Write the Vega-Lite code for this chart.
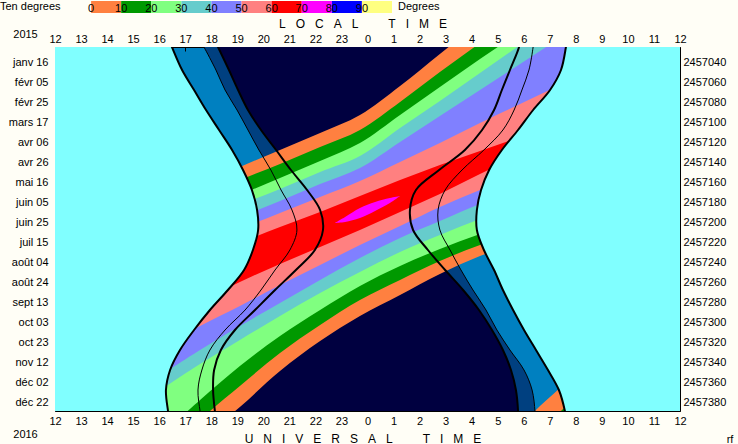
{
 "$schema": "https://vega.github.io/schema/vega-lite/v6.json",
 "width": 625, "height": 364,
 "autosize": {"type": "none"},
 "padding": {"left": 55, "top": 47, "right": 58, "bottom": 33},
 "background": "#FFFEF6",
 "title": {"text": "Degrees", "orient": "top", "anchor": "start", "frame": "group", "dx": 343, "offset": -20, "align": "left", "baseline": "alphabetic", "font": "Liberation Sans", "fontSize": 11, "fontWeight": "normal", "color": "#000"},
 "config": {
  "view": {"fill": "#0080C0", "stroke": null},
  "axis": {"labelFont": "Liberation Sans", "labelFontSize": 11, "labelColor": "#000", "tickColor": "#000", "domainColor": "#000", "titleFont": "Liberation Sans", "titleFontSize": 12, "titleFontWeight": "normal", "titleColor": "#000", "grid": false, "tickSize": -4, "zindex": 1, "labelFlush": false, "labelOverlap": false, "labelBound": false}
 },
 "datasets": {
  "sun": [
   {"jd": 2457018, "L1": 16.38, "L2": 17.57, "L3": 18.14, "R1": 31.66, "R2": 30.39, "R3": 29.86},
   {"jd": 2457025, "L1": 16.49, "L2": 17.72, "L3": 18.26, "R1": 31.62, "R2": 30.36, "R3": 29.82},
   {"jd": 2457048, "L1": 16.88, "L2": 18.18, "L3": 18.68, "R1": 31.43, "R2": 30.20, "R3": 29.47},
   {"jd": 2457068, "L1": 17.34, "L2": 18.53, "L3": 19.03, "R1": 31.01, "R2": 29.93, "R3": 29.16},
   {"jd": 2457088, "L1": 17.80, "L2": 18.99, "L3": 19.41, "R1": 30.36, "R2": 29.63, "R3": 28.86},
   {"jd": 2457108, "L1": 18.30, "L2": 19.41, "L3": 19.91, "R1": 29.78, "R2": 29.20, "R3": 28.40},
   {"jd": 2457128, "L1": 18.80, "L2": 19.83, "L3": 20.49, "R1": 29.16, "R2": 28.47, "R3": 27.74},
   {"jd": 2457148, "L1": 19.22, "L2": 20.29, "L3": 21.06, "R1": 28.67, "R2": 27.63, "R3": 26.75},
   {"jd": 2457168, "L1": 19.56, "L2": 20.68, "L3": 21.68, "R1": 28.36, "R2": 26.98, "R3": 25.86},
   {"jd": 2457188, "L1": 19.76, "L2": 21.10, "L3": 22.18, "R1": 28.20, "R2": 26.71, "R3": 25.63},
   {"jd": 2457208, "L1": 19.80, "L2": 21.29, "L3": 22.29, "R1": 28.20, "R2": 26.78, "R3": 25.75},
   {"jd": 2457228, "L1": 19.60, "L2": 21.02, "L3": 21.98, "R1": 28.47, "R2": 27.17, "R3": 26.32},
   {"jd": 2457248, "L1": 19.26, "L2": 20.45, "L3": 21.25, "R1": 28.86, "R2": 27.59, "R3": 26.98},
   {"jd": 2457268, "L1": 18.64, "L2": 19.91, "L3": 20.45, "R1": 29.20, "R2": 28.05, "R3": 27.67},
   {"jd": 2457288, "L1": 17.95, "L2": 19.30, "L3": 19.68, "R1": 29.59, "R2": 28.55, "R3": 28.28},
   {"jd": 2457308, "L1": 17.34, "L2": 18.53, "L3": 18.91, "R1": 30.01, "R2": 28.97, "R3": 28.78},
   {"jd": 2457328, "L1": 16.80, "L2": 17.95, "L3": 18.37, "R1": 30.47, "R2": 29.47, "R3": 29.20},
   {"jd": 2457348, "L1": 16.42, "L2": 17.64, "L3": 18.11, "R1": 30.93, "R2": 30.01, "R3": 29.51},
   {"jd": 2457368, "L1": 16.26, "L2": 17.49, "L3": 18.07, "R1": 31.35, "R2": 30.32, "R3": 29.70},
   {"jd": 2457389, "L1": 16.34, "L2": 17.57, "L3": 18.14, "R1": 31.58, "R2": 30.43, "R3": 29.78},
   {"jd": 2457396, "L1": 16.38, "L2": 17.61, "L3": 18.18, "R1": 31.62, "R2": 30.43, "R3": 29.78}
  ],
  "bands": [
   {"piece": "m0", "k": 0, "h": 15.65, "top": 2457185, "bot": 2457473},
   {"piece": "m0", "k": 0, "h": 17.57, "top": 2457163, "bot": 2457418},
   {"piece": "m0", "k": 0, "h": 19.10, "top": 2457145, "bot": 2457385},
   {"piece": "m0", "k": 0, "h": 20.64, "top": 2457128, "bot": 2457349},
   {"piece": "m0", "k": 0, "h": 22.18, "top": 2457111, "bot": 2457319},
   {"piece": "m0", "k": 0, "h": 23.71, "top": 2457093, "bot": 2457294},
   {"piece": "m0", "k": 0, "h": 25.25, "top": 2457064, "bot": 2457273},
   {"piece": "m0", "k": 0, "h": 26.78, "top": 2457032, "bot": 2457252},
   {"piece": "m0", "k": 0, "h": 28.32, "top": 2457000, "bot": 2457234},
   {"piece": "m0", "k": 0, "h": 29.86, "top": 2456968, "bot": 2457220},
   {"piece": "m0", "k": 0, "h": 31.39, "top": 2456936, "bot": 2457205},
   {"piece": "m0", "k": 0, "h": 32.93, "top": 2456904, "bot": 2457192},
   {"piece": "m1", "k": 10, "h": 15.65, "top": 2457196, "bot": 2457448},
   {"piece": "m1", "k": 10, "h": 17.57, "top": 2457175, "bot": 2457398},
   {"piece": "m1", "k": 10, "h": 19.10, "top": 2457158, "bot": 2457364},
   {"piece": "m1", "k": 10, "h": 20.64, "top": 2457142, "bot": 2457331},
   {"piece": "m1", "k": 10, "h": 22.18, "top": 2457125, "bot": 2457303},
   {"piece": "m1", "k": 10, "h": 23.71, "top": 2457108, "bot": 2457278},
   {"piece": "m1", "k": 10, "h": 25.25, "top": 2457080, "bot": 2457258},
   {"piece": "m1", "k": 10, "h": 26.78, "top": 2457050, "bot": 2457239},
   {"piece": "m1", "k": 10, "h": 28.32, "top": 2457021, "bot": 2457223},
   {"piece": "m1", "k": 10, "h": 29.86, "top": 2456992, "bot": 2457210},
   {"piece": "m1", "k": 10, "h": 31.39, "top": 2456963, "bot": 2457196},
   {"piece": "m1", "k": 10, "h": 32.93, "top": 2456934, "bot": 2457183},
   {"piece": "m2", "k": 20, "h": 15.65, "top": 2457213, "bot": 2457423},
   {"piece": "m2", "k": 20, "h": 17.57, "top": 2457191, "bot": 2457378},
   {"piece": "m2", "k": 20, "h": 19.10, "top": 2457173, "bot": 2457344},
   {"piece": "m2", "k": 20, "h": 20.64, "top": 2457156, "bot": 2457314},
   {"piece": "m2", "k": 20, "h": 22.18, "top": 2457139, "bot": 2457288},
   {"piece": "m2", "k": 20, "h": 23.71, "top": 2457121, "bot": 2457264},
   {"piece": "m2", "k": 20, "h": 25.25, "top": 2457093, "bot": 2457244},
   {"piece": "m2", "k": 20, "h": 26.78, "top": 2457065, "bot": 2457227},
   {"piece": "m2", "k": 20, "h": 28.32, "top": 2457037, "bot": 2457212},
   {"piece": "m2", "k": 20, "h": 29.86, "top": 2457010, "bot": 2457198},
   {"piece": "m2", "k": 20, "h": 31.39, "top": 2456982, "bot": 2457185},
   {"piece": "m2", "k": 20, "h": 32.93, "top": 2456954, "bot": 2457173},
   {"piece": "m3", "k": 30, "h": 15.65, "top": 2457220, "bot": 2457375},
   {"piece": "m3", "k": 30, "h": 17.57, "top": 2457200, "bot": 2457342},
   {"piece": "m3", "k": 30, "h": 19.10, "top": 2457183, "bot": 2457318},
   {"piece": "m3", "k": 30, "h": 20.64, "top": 2457167, "bot": 2457294},
   {"piece": "m3", "k": 30, "h": 22.18, "top": 2457150, "bot": 2457271},
   {"piece": "m3", "k": 30, "h": 23.71, "top": 2457134, "bot": 2457250},
   {"piece": "m3", "k": 30, "h": 25.25, "top": 2457106, "bot": 2457230},
   {"piece": "m3", "k": 30, "h": 26.78, "top": 2457079, "bot": 2457213},
   {"piece": "m3", "k": 30, "h": 28.32, "top": 2457051, "bot": 2457197},
   {"piece": "m3", "k": 30, "h": 29.86, "top": 2457023, "bot": 2457183},
   {"piece": "m3", "k": 30, "h": 31.39, "top": 2456996, "bot": 2457170},
   {"piece": "m3", "k": 30, "h": 32.93, "top": 2456968, "bot": 2457158},
   {"piece": "m4", "k": 40, "h": 15.65, "top": 2457232, "bot": 2457360},
   {"piece": "m4", "k": 40, "h": 17.57, "top": 2457211, "bot": 2457328},
   {"piece": "m4", "k": 40, "h": 19.10, "top": 2457195, "bot": 2457304},
   {"piece": "m4", "k": 40, "h": 20.64, "top": 2457179, "bot": 2457281},
   {"piece": "m4", "k": 40, "h": 22.18, "top": 2457162, "bot": 2457258},
   {"piece": "m4", "k": 40, "h": 23.71, "top": 2457146, "bot": 2457236},
   {"piece": "m4", "k": 40, "h": 25.25, "top": 2457120, "bot": 2457216},
   {"piece": "m4", "k": 40, "h": 26.78, "top": 2457094, "bot": 2457199},
   {"piece": "m4", "k": 40, "h": 28.32, "top": 2457068, "bot": 2457182},
   {"piece": "m4", "k": 40, "h": 29.86, "top": 2457042, "bot": 2457168},
   {"piece": "m4", "k": 40, "h": 31.39, "top": 2457016, "bot": 2457155},
   {"piece": "m4", "k": 40, "h": 32.93, "top": 2456990, "bot": 2457143},
   {"piece": "m5", "k": 50, "h": 15.65, "top": 2457243, "bot": 2457330},
   {"piece": "m5", "k": 50, "h": 17.57, "top": 2457223, "bot": 2457304},
   {"piece": "m5", "k": 50, "h": 19.10, "top": 2457207, "bot": 2457284},
   {"piece": "m5", "k": 50, "h": 20.64, "top": 2457191, "bot": 2457263},
   {"piece": "m5", "k": 50, "h": 22.18, "top": 2457175, "bot": 2457243},
   {"piece": "m5", "k": 50, "h": 23.71, "top": 2457159, "bot": 2457223},
   {"piece": "m5", "k": 50, "h": 25.25, "top": 2457140, "bot": 2457204},
   {"piece": "m5", "k": 50, "h": 26.78, "top": 2457121, "bot": 2457185},
   {"piece": "m5", "k": 50, "h": 28.32, "top": 2457101, "bot": 2457168},
   {"piece": "m5", "k": 50, "h": 29.86, "top": 2457082, "bot": 2457152},
   {"piece": "m5", "k": 50, "h": 31.39, "top": 2457063, "bot": 2457136},
   {"piece": "m5", "k": 50, "h": 32.93, "top": 2457044, "bot": 2457121},
   {"piece": "m6", "k": 60, "h": 15.65, "top": 2457256, "bot": 2457303},
   {"piece": "m6", "k": 60, "h": 17.57, "top": 2457237, "bot": 2457280},
   {"piece": "m6", "k": 60, "h": 19.10, "top": 2457221, "bot": 2457260},
   {"piece": "m6", "k": 60, "h": 20.64, "top": 2457205, "bot": 2457242},
   {"piece": "m6", "k": 60, "h": 22.18, "top": 2457190, "bot": 2457225},
   {"piece": "m6", "k": 60, "h": 23.71, "top": 2457174, "bot": 2457208},
   {"piece": "m6", "k": 60, "h": 25.25, "top": 2457158, "bot": 2457190},
   {"piece": "m6", "k": 60, "h": 26.78, "top": 2457143, "bot": 2457172},
   {"piece": "m6", "k": 60, "h": 28.32, "top": 2457129, "bot": 2457152},
   {"piece": "m6", "k": 60, "h": 29.86, "top": 2457115, "bot": 2457133},
   {"piece": "m6", "k": 60, "h": 31.39, "top": 2457100, "bot": 2457113},
   {"piece": "m6", "k": 60, "h": 32.93, "top": 2457086, "bot": 2457094},
   {"piece": "m7", "k": 70, "h": 22.75, "top": 2457201, "bot": 2457201},
   {"piece": "m7", "k": 70, "h": 23.14, "top": 2457195, "bot": 2457200},
   {"piece": "m7", "k": 70, "h": 23.71, "top": 2457186, "bot": 2457196},
   {"piece": "m7", "k": 70, "h": 24.29, "top": 2457180, "bot": 2457189},
   {"piece": "m7", "k": 70, "h": 24.86, "top": 2457176, "bot": 2457181},
   {"piece": "m7", "k": 70, "h": 25.25, "top": 2457174, "bot": 2457174},
   {"piece": "n0", "k": 0, "h": 29.86, "top": 2457405, "bot": 2457420},
   {"piece": "n0", "k": 0, "h": 30.43, "top": 2457389, "bot": 2457420},
   {"piece": "n0", "k": 0, "h": 31.39, "top": 2457366, "bot": 2457420},
   {"piece": "n0", "k": 0, "h": 32.93, "top": 2457330, "bot": 2457420},
   {"piece": "n1", "k": 10, "h": 31.20, "top": 2457394, "bot": 2457420},
   {"piece": "n1", "k": 10, "h": 31.43, "top": 2457389, "bot": 2457420},
   {"piece": "n1", "k": 10, "h": 32.93, "top": 2457354, "bot": 2457420}
  ]
 },
 "layer": [
  {
   "data": {"name": "sun"},
   "mark": {"type": "area", "orient": "horizontal", "interpolate": "catmull-rom", "color": "#004080", "clip": true},
   "encoding": {
    "y": {"field": "jd", "type": "quantitative", "scale": {"domain": [2457025, 2457389], "reverse": true, "nice": false, "zero": false},
     "axis": {"orient": "left", "values": [2457040, 2457060, 2457080, 2457100, 2457120, 2457140, 2457160, 2457180, 2457200, 2457220, 2457240, 2457260, 2457280, 2457300, 2457320, 2457340, 2457360, 2457380],
      "labelExpr": "['janv 16','févr 05','févr 25','mars 17','avr 06','avr 26','mai 16','juin 05','juin 25','juil 15','août 04','août 24','sept 13','oct 03','oct 23','nov 12','déc 02','déc 22'][round((datum.value-2457040)/20)]",
      "labelPadding": 11, "title": ["2015", "2016"], "titleAngle": 0, "titleX": -30, "titleY": -10, "titleAlign": "center", "titleBaseline": "alphabetic", "titleLineHeight": 400, "titleFontSize": 11}},
    "x": {"field": "L2", "type": "quantitative", "scale": {"domain": [12, 36], "nice": false, "zero": false},
     "axis": {"orient": "top", "values": [12,13,14,15,16,17,18,19,20,21,22,23,24,25,26,27,28,29,30,31,32,33,34,35,36], "labelExpr": "'' + (datum.value % 24)", "labelPadding": 7,
      "title": "L\u00a0\u00a0\u00a0O\u00a0\u00a0\u00a0C\u00a0\u00a0\u00a0A\u00a0\u00a0\u00a0L\u00a0\u00a0\u00a0\u00a0\u00a0\u00a0\u00a0\u00a0\u00a0T\u00a0\u00a0\u00a0I\u00a0\u00a0\u00a0M\u00a0\u00a0\u00a0E",
      "titleX": 307.5, "titleY": -20, "titleAlign": "center", "titleBaseline": "alphabetic", "titleAngle": 0}},
    "x2": {"field": "R2"}
   }
  },
  {
   "data": {"name": "sun"},
   "mark": {"type": "area", "orient": "horizontal", "interpolate": "catmull-rom", "color": "#000040", "clip": true},
   "encoding": {
    "y": {"field": "jd", "type": "quantitative", "scale": {"domain": [2457025, 2457389], "reverse": true, "nice": false, "zero": false},
     "axis": {"orient": "right", "values": [2457040, 2457060, 2457080, 2457100, 2457120, 2457140, 2457160, 2457180, 2457200, 2457220, 2457240, 2457260, 2457280, 2457300, 2457320, 2457340, 2457360, 2457380],
      "format": "d", "labelPadding": 7, "title": "rf", "titleAngle": 0, "titleX": 49.5, "titleY": 395, "titleAlign": "center", "titleBaseline": "alphabetic", "titleFontSize": 11}},
    "x": {"field": "L3", "type": "quantitative", "scale": {"domain": [12, 36], "nice": false, "zero": false},
     "axis": {"orient": "bottom", "values": [12,13,14,15,16,17,18,19,20,21,22,23,24,25,26,27,28,29,30,31,32,33,34,35,36], "labelExpr": "'' + (datum.value % 24)", "labelPadding": 8,
      "title": "U\u00a0\u00a0\u00a0N\u00a0\u00a0\u00a0I\u00a0\u00a0\u00a0V\u00a0\u00a0\u00a0E\u00a0\u00a0\u00a0R\u00a0\u00a0\u00a0S\u00a0\u00a0\u00a0A\u00a0\u00a0\u00a0L\u00a0\u00a0\u00a0\u00a0\u00a0\u00a0\u00a0\u00a0\u00a0T\u00a0\u00a0\u00a0I\u00a0\u00a0\u00a0M\u00a0\u00a0\u00a0E",
      "titleX": 307.5, "titleY": 31, "titleAlign": "center", "titleBaseline": "alphabetic", "titleAngle": 0}},
    "x2": {"field": "R3"}
   }
  },
  {
   "data": {"name": "bands"},
   "mark": {"type": "area", "orient": "vertical", "interpolate": "catmull-rom", "clip": true},
   "encoding": {
    "x": {"field": "h", "type": "quantitative", "scale": {"domain": [12, 36], "nice": false, "zero": false}, "axis": null},
    "y": {"field": "top", "type": "quantitative", "stack": null, "scale": {"domain": [2457025, 2457389], "reverse": true, "nice": false, "zero": false}, "axis": null},
    "y2": {"field": "bot"},
    "detail": {"field": "piece"},
    "color": {"field": "k", "type": "quantitative",
     "scale": {"type": "quantize", "domain": [-10, 100], "range": ["#FFFEF6", "#FF8040", "#009900", "#80FF80", "#66CCCC", "#8080FF", "#FF8080", "#FF0000", "#FF00FF", "#0000FF", "#FFFF80"]},
     "legend": {"type": "gradient", "orient": "none", "legendX": -55, "legendY": -46, "direction": "horizontal", "padding": 0,
      "title": "Ten degrees", "titleOrient": "left", "titleAnchor": "start", "titleFont": "Liberation Sans", "titleFontSize": 11, "titleFontWeight": "normal", "titleColor": "#000", "titlePadding": 0, "titleBaseline": "top",
      "gradientLength": 331, "gradientThickness": 12, "gradientStrokeWidth": 0,
      "labelFont": "Liberation Sans", "labelFontSize": 11, "labelColor": "#000", "labelOffset": -10, "labelAlign": "center", "labelOverlap": false}}
   }
  },
  {
   "data": {"name": "sun"},
   "mark": {"type": "area", "orient": "horizontal", "interpolate": "catmull-rom", "color": "#80FFFF", "clip": true},
   "encoding": {
    "y": {"field": "jd", "type": "quantitative", "scale": {"domain": [2457025, 2457389], "reverse": true, "nice": false, "zero": false}, "axis": null},
    "x": {"field": "L1", "type": "quantitative", "scale": {"domain": [12, 36], "nice": false, "zero": false}, "axis": null},
    "x2": {"datum": 10}
   }
  },
  {
   "data": {"name": "sun"},
   "mark": {"type": "area", "orient": "horizontal", "interpolate": "catmull-rom", "color": "#80FFFF", "clip": true},
   "encoding": {
    "y": {"field": "jd", "type": "quantitative", "scale": {"domain": [2457025, 2457389], "reverse": true, "nice": false, "zero": false}, "axis": null},
    "x": {"field": "R1", "type": "quantitative", "scale": {"domain": [12, 36], "nice": false, "zero": false}, "axis": null},
    "x2": {"datum": 38}
   }
  },
  {
   "data": {"name": "sun"},
   "transform": [{"fold": ["L1", "L3", "R1", "R3"], "as": ["curve", "h"]}],
   "mark": {"type": "line", "interpolate": "catmull-rom", "color": "#000", "strokeWidth": 2, "clip": true},
   "encoding": {
    "x": {"field": "h", "type": "quantitative", "scale": {"domain": [12, 36], "nice": false, "zero": false}, "axis": null},
    "y": {"field": "jd", "type": "quantitative", "scale": {"domain": [2457025, 2457389], "reverse": true, "nice": false, "zero": false}, "axis": null},
    "detail": {"field": "curve"},
    "order": {"field": "jd"}
   }
  },
  {
   "data": {"name": "sun"},
   "transform": [{"fold": ["L2", "R2"], "as": ["curve", "h"]}],
   "mark": {"type": "line", "interpolate": "catmull-rom", "color": "#000", "strokeWidth": 1, "clip": true},
   "encoding": {
    "x": {"field": "h", "type": "quantitative", "scale": {"domain": [12, 36], "nice": false, "zero": false}, "axis": null},
    "y": {"field": "jd", "type": "quantitative", "scale": {"domain": [2457025, 2457389], "reverse": true, "nice": false, "zero": false}, "axis": null},
    "detail": {"field": "curve"},
    "order": {"field": "jd"}
   }
  }
 ],
 "resolve": {"axis": {"x": "independent", "y": "independent"}}
}
